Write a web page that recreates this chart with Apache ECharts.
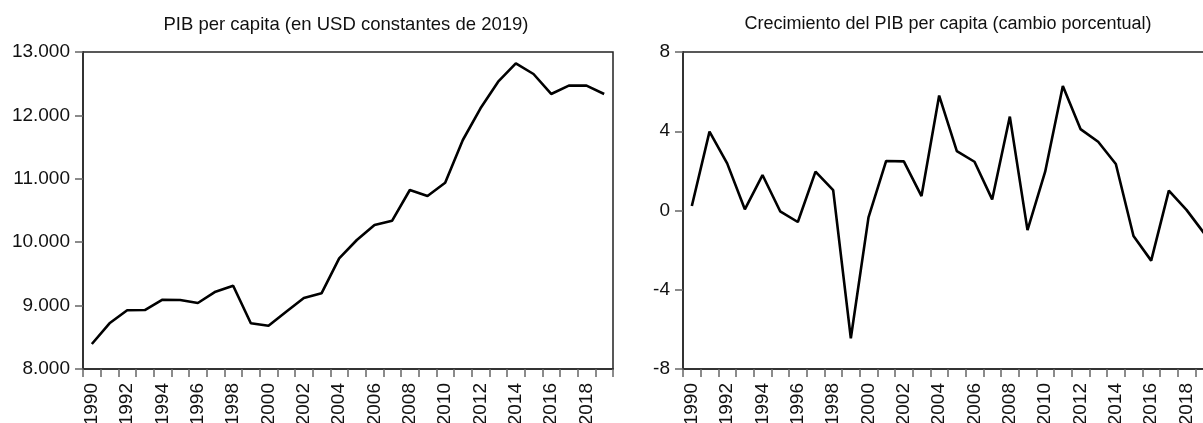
<!DOCTYPE html>
<html>
<head>
<meta charset="utf-8">
<script src="https://cdn.jsdelivr.net/npm/echarts@6/dist/echarts.min.js"></script>
<style>
  html, body { margin: 0; padding: 0; background: #fff; }
  #chart { width: 1203px; height: 423px; }
</style>
</head>
<body>
<div id="chart"></div>
<script>
// años 1990-2019
const years = []
for (let y = 1990; y <= 2019; y++) years.push(String(y))

// PIB per capita (USD constantes de 2019)
const pibPerCapita = [
  8394, 8721, 8926, 8930, 9093, 9088, 9041, 9219, 9314, 8721,
  8683, 8904, 9120, 9194, 9746, 10035, 10271, 10340, 10823, 10729,
  10939, 11612, 12112, 12532, 12822, 12653, 12338, 12469, 12469, 12338
]

// crecimiento del PIB per capita (%)
const crecimiento = [
  0.23, 3.98, 2.38, 0.06, 1.79, -0.04, -0.58, 1.96, 1.03, -6.45,
  -0.35, 2.50, 2.48, 0.73, 5.80, 3.00, 2.46, 0.56, 4.74, -0.99,
  1.96, 6.28, 4.11, 3.47, 2.35, -1.29, -2.53, 1.00, 0.03, -1.15
]

const leftTicks = [8000, 9000, 10000, 11000, 12000, 13000]
const rightTicks = [-8, -4, 0, 4, 8]

const fontFamily = 'Liberation Sans, Arial, sans-serif'
const textColor = '#111'

// 13000 -> "13.000"
const fmtMiles = v => String(v).replace(/\B(?=(\d{3})+(?!\d))/g, '.')

const makeX = gridIndex => ({
  type: 'category',
  gridIndex,
  data: years,
  boundaryGap: true,
  axisLine: { onZero: false, lineStyle: { color: '#333', width: 2 } },
  axisTick: { show: true, interval: 0, length: 8, lineStyle: { color: '#666', width: 1.5 } },
  axisLabel: {
    interval: 1,
    rotate: 90,
    margin: 14,
    fontSize: 19,
    color: textColor,
    fontFamily
  },
  splitLine: { show: false }
})

const makeY = (gridIndex, ticks, formatter) => ({
  type: 'value',
  gridIndex,
  min: ticks[0],
  max: ticks[ticks.length - 1],
  interval: ticks[1] - ticks[0],
  axisLine: { show: true, lineStyle: { color: '#333', width: 2 } },
  axisTick: { show: true, length: 8, lineStyle: { color: '#666', width: 1.5 } },
  axisLabel: { margin: 13, fontSize: 19, color: textColor, fontFamily, formatter },
  splitLine: { show: false }
})

const chart = echarts.init(document.getElementById('chart'))

const option = {
  animation: false,
  backgroundColor: '#fff',
  title: [
    {
      text: 'PIB per capita (en USD constantes de 2019)',
      left: 346,
      top: 15,
      textAlign: 'center',
      padding: 0,
      textStyle: { fontSize: 18.5, fontWeight: 'normal', color: textColor, fontFamily }
    },
    {
      text: 'Crecimiento del PIB per capita (cambio porcentual)',
      left: 948,
      top: 15,
      textAlign: 'center',
      padding: 0,
      textStyle: { fontSize: 18, fontWeight: 'normal', color: textColor, fontFamily }
    }
  ],
  grid: [
    { left: 83, top: 52, width: 530, height: 317, outerBoundsMode: 'none', containLabel: false,
      show: true, borderColor: '#222', borderWidth: 1.5 },
    { left: 683, top: 52, width: 530, height: 317, outerBoundsMode: 'none', containLabel: false,
      show: true, borderColor: '#222', borderWidth: 1.5 }
  ],
  xAxis: [makeX(0), makeX(1)],
  yAxis: [
    makeY(0, leftTicks, fmtMiles),
    makeY(1, rightTicks, v => String(v))
  ],
  series: [
    {
      type: 'line',
      xAxisIndex: 0,
      yAxisIndex: 0,
      data: pibPerCapita,
      showSymbol: false,
      lineStyle: { color: '#000', width: 2.6 }
    },
    {
      type: 'line',
      xAxisIndex: 1,
      yAxisIndex: 1,
      data: crecimiento,
      showSymbol: false,
      lineStyle: { color: '#000', width: 2.6 }
    }
  ]
}

chart.setOption(option)
</script>
</body>
</html>
